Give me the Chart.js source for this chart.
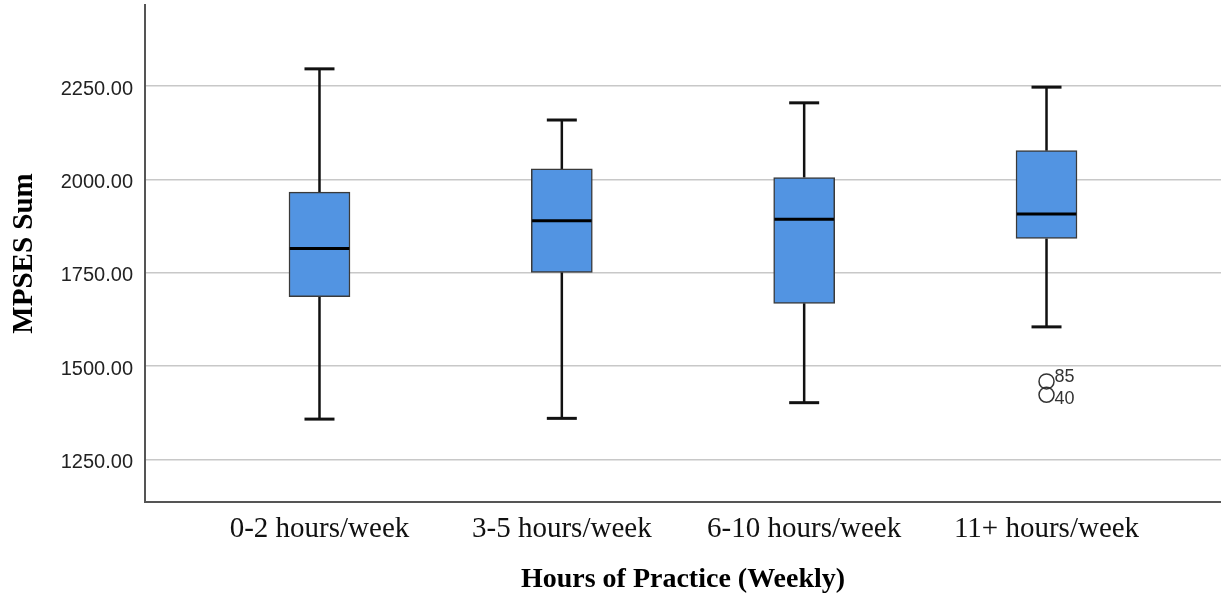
<!DOCTYPE html>
<html>
<head>
<meta charset="utf-8">
<title>MPSES Sum by Hours of Practice</title>
<script src="https://cdn.jsdelivr.net/npm/chart.js@4.4.1/dist/chart.umd.min.js"></script>
<style>
  html, body { margin: 0; padding: 0; background: #ffffff; }
  canvas { display: block; }
</style>
</head>
<body>
<canvas id="chart" width="1221" height="606"></canvas>
<script>
// Groups on the horizontal axis
const categories = ['0-2 hours/week', '3-5 hours/week', '6-10 hours/week', '11+ hours/week'];

// Five-number summaries per group
const whiskerLow  = [1358, 1360, 1402, 1605];
const quartile1   = [1686, 1751, 1668, 1842];
const medians     = [1815, 1889, 1893, 1907];
const quartile3   = [1966, 2028, 2005, 2077];
const whiskerHigh = [2296, 2159, 2205, 2247];

// Outlying cases: group index, value, case id
const outlierGroup  = [3, 3];
const outlierValues = [1459, 1423];
const outlierIds    = ['85', '40'];

// Value axis
const yTicks = [1250, 1500, 1750, 2000, 2250];
const yMin = 1136;
const yMax = 2467;

const serif = "'Liberation Serif', 'Times New Roman', serif";
const sans = "'Liberation Sans', Arial, sans-serif";

// Whiskers, caps, medians and outlier case labels
const boxPlotPlugin = {
  id: 'boxWhiskers',
  beforeDatasetsDraw(chart) {
    const { ctx, scales: { x, y } } = chart;
    ctx.save();
    ctx.strokeStyle = '#111111';
    ctx.lineCap = 'butt';
    categories.forEach((c, i) => {
      const cx = x.getPixelForValue(i);
      ctx.lineWidth = 2.5;
      ctx.beginPath();
      ctx.moveTo(cx, y.getPixelForValue(quartile3[i]));
      ctx.lineTo(cx, y.getPixelForValue(whiskerHigh[i]));
      ctx.moveTo(cx, y.getPixelForValue(quartile1[i]));
      ctx.lineTo(cx, y.getPixelForValue(whiskerLow[i]));
      ctx.stroke();
      ctx.lineWidth = 3;
      [whiskerHigh[i], whiskerLow[i]].forEach(v => {
        const py = y.getPixelForValue(v);
        ctx.beginPath();
        ctx.moveTo(cx - 15, py);
        ctx.lineTo(cx + 15, py);
        ctx.stroke();
      });
    });
    ctx.restore();
  },
  afterDatasetsDraw(chart) {
    const { ctx, scales: { y } } = chart;
    const boxes = chart.getDatasetMeta(0).data;
    ctx.save();
    ctx.strokeStyle = '#000000';
    ctx.lineWidth = 3;
    boxes.forEach((bar, i) => {
      const py = y.getPixelForValue(medians[i]);
      const half = bar.width / 2 - 0.75;
      ctx.beginPath();
      ctx.moveTo(bar.x - half, py);
      ctx.lineTo(bar.x + half, py);
      ctx.stroke();
    });

    const points = chart.getDatasetMeta(1).data;
    ctx.fillStyle = '#333333';
    ctx.font = '18px ' + sans;
    ctx.textAlign = 'left';
    ctx.textBaseline = 'alphabetic';
    points.forEach((pt, i) => {
      const group = outlierGroup[i];
      const sameGroup = outlierValues.filter((v, j) => outlierGroup[j] === group);
      const isLowest = outlierValues[i] === Math.min(...sameGroup) && sameGroup.length > 1;
      ctx.fillText(outlierIds[i], pt.x + 8, pt.y + (isLowest ? 9 : 1));
    });
    ctx.restore();
  }
};

new Chart(document.getElementById('chart'), {
  type: 'bar',
  data: {
    datasets: [
      {
        label: 'Interquartile range',
        data: categories.map((c, i) => ({ x: i, y: [quartile1[i], quartile3[i]] })),
        backgroundColor: '#5294e2',
        borderColor: '#3a3a3a',
        borderWidth: 1.5,
        borderSkipped: false,
        barThickness: 61
      },
      {
        type: 'scatter',
        label: 'Outliers',
        data: outlierGroup.map((g, i) => ({ x: g, y: outlierValues[i] })),
        pointStyle: 'circle',
        pointRadius: 7.5,
        pointBackgroundColor: 'rgba(0,0,0,0)',
        pointBorderColor: '#333333',
        pointBorderWidth: 1.5
      }
    ]
  },
  options: {
    responsive: false,
    animation: false,
    devicePixelRatio: 1,
    layout: { autoPadding: false, padding: { top: 5, left: 0, right: 0, bottom: 0 } },
    plugins: {
      legend: { display: false },
      tooltip: { enabled: false }
    },
    scales: {
      x: {
        type: 'linear',
        offset: false,
        min: -0.72,
        max: 3.72,
        grid: { display: false, drawTicks: false, offset: false },
        border: { display: true, color: '#555555', width: 2 },
        afterBuildTicks: s => { s.ticks = categories.map((c, i) => ({ value: i })); },
        afterFit: s => { s.height = 104; s.paddingLeft = 0; s.paddingRight = 0; },
        ticks: {
          padding: 10,
          autoSkip: false,
          maxRotation: 0,
          minRotation: 0,
          color: '#111111',
          font: { family: serif, size: 29 },
          callback: v => categories[v]
        },
        title: {
          display: true,
          text: 'Hours of Practice (Weekly)',
          color: '#000000',
          font: { family: serif, size: 28, weight: 'bold' },
          padding: { top: 0, bottom: 9 }
        }
      },
      y: {
        type: 'linear',
        min: yMin,
        max: yMax,
        afterBuildTicks: s => { s.ticks = yTicks.map(v => ({ value: v })); },
        afterFit: s => { s.width = 145; s.paddingTop = 0; s.paddingBottom = 0; },
        grid: { color: '#c8c8c8', lineWidth: 1.5, drawTicks: false },
        border: { display: true, color: '#555555', width: 2 },
        ticks: {
          padding: 12,
          labelOffset: 3,
          color: '#222222',
          font: { family: sans, size: 20 },
          callback: v => Number(v).toFixed(2)
        },
        title: {
          display: true,
          text: 'MPSES Sum',
          color: '#000000',
          font: { family: serif, size: 29, weight: 'bold' },
          padding: { top: 7, bottom: 0 }
        }
      }
    }
  },
  plugins: [boxPlotPlugin]
});
</script>
</body>
</html>
